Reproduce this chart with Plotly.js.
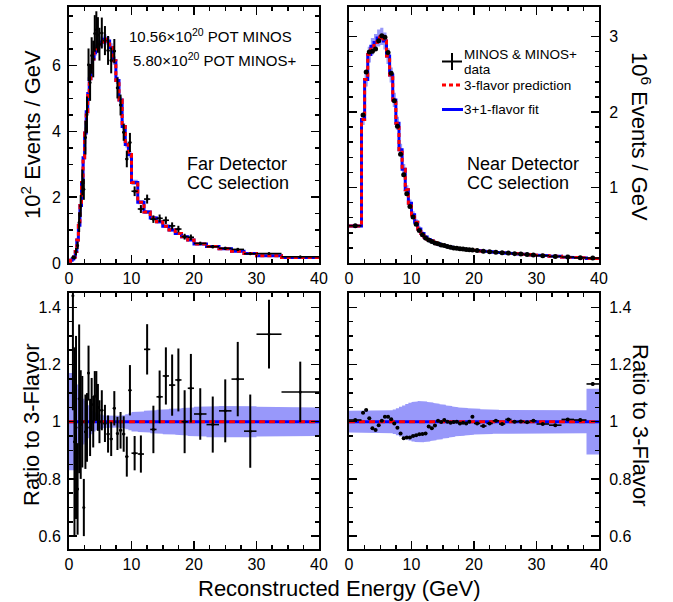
<!DOCTYPE html>
<html><head><meta charset="utf-8">
<script src="https://cdn.plot.ly/plotly-3.0.1.min.js"></script>
<style>html,body{margin:0;padding:0;background:#fff;} #chart{width:673px;height:602px;}</style>
</head><body><div id="chart"></div>
<script>
// ---------------- Far Detector ----------------
const fdEdges = [0,0.25,0.5,0.75,1,1.25,1.5,1.75,2,2.25,2.5,2.75,3,3.25,3.5,3.75,4,4.25,4.5,4.75,5,
  5.5,6,6.5,7,7.5,8,8.5,9,9.5,10,11,12,13,14,15,16,17,18,19,20,22,24,26,28,30,34,40];
// 3-flavor prediction (10^2 events / GeV)
const fdPred = [0.05,0.08,0.12,0.18,0.35,0.7,1.15,1.75,2.45,3.2,3.95,4.6,5.15,5.6,5.95,6.2,6.4,6.5,6.6,6.65,
  6.72,6.8,6.75,6.55,6.15,5.55,4.95,4.15,3.6,3.3,
  2.45,1.85,1.55,1.37,1.25,1.12,1.0,0.9,0.8,0.7,
  0.58,0.5,0.43,0.36,0.29,0.22,0.17];
// 3+1-flavor fit relative to 3-flavor
const fdFitRatio = [1,1,1,1,1,1,1,1,1,1,1,1,1,1,1,1,1,1,1,1,1,1,1,1,1,1,1,1,1,1,1,1,1,1,1,1,1,1,1,1,1,1,1,1,1,1,1];
// data / 3-flavor
const fdRatio = [null,null,1.44,0.93,0.98,0.765,1.08,0.99,1.00,0.70,0.965,0.98,1.17,0.98,1.06,1.00,1.09,1.09,1.05,1.00,
  1.04,0.994,0.957,0.94,1.047,0.959,0.97,0.957,0.878,1.11,
  0.89,0.887,1.253,0.973,1.087,1.16,1.128,1.146,1.0,1.117,
  1.027,0.99,1.038,1.149,0.967,1.306,1.104];
const fdRatioErr = [null,null,0.40,0.33,0.32,0.16,0.26,0.19,0.16,0.10,0.13,0.12,0.096,0.10,0.093,0.09,0.087,0.087,0.082,0.075,
  0.07,0.065,0.065,0.06,0.06,0.058,0.064,0.062,0.07,0.088,
  0.06,0.065,0.088,0.083,0.092,0.10,0.107,0.11,0.11,0.12,
  0.09,0.098,0.11,0.13,0.128,0.12,0.106];
// relative systematic band
const fdBand = [0.17,0.17,0.17,0.17,0.15,0.13,0.115,0.10,0.09,0.08,0.072,0.065,0.058,0.05,0.044,0.038,0.034,0.03,0.028,0.026,
  0.024,0.022,0.02,0.02,0.02,0.02,0.021,0.023,0.026,0.03,
  0.034,0.036,0.038,0.04,0.042,0.044,0.045,0.046,0.048,0.05,
  0.052,0.054,0.055,0.055,0.054,0.052,0.05];

// ---------------- Near Detector ----------------
const ndEdges = [0,2,2.5,3,3.5,4,4.5,5,5.5,6,6.5,7,7.5,8,8.5,9,9.5,10,10.5,11,11.5,12,12.5,13,13.5,14,14.5,15,15.5,16,16.5,17,17.5,18,18.5,19,19.5,20,
  21,22,23,24,25,26,27,28,29,30,32,34,36,38,40];
// 3-flavor prediction (10^6 events / GeV)
const ndPred = [0.49,1.90,2.43,2.76,2.87,2.92,2.98,3.0,2.94,2.74,2.49,2.16,1.85,1.50,1.24,0.97,0.79,0.64,0.54,0.45,0.39,
  0.345,0.31,0.29,0.27,0.255,0.24,0.23,0.22,0.21,0.20,0.195,0.19,0.185,0.18,0.175,0.17,
  0.165,0.158,0.15,0.143,0.137,0.13,0.124,0.118,0.112,0.106,
  0.098,0.088,0.078,0.068,0.058];
const ndFitRatio = [1,1,1,1,1,1,1,1,1,1,1,1,1,1,1,1,1,1,1,1,1,1,1,1,1,1,1,1,1,1,1,1,1,1,1,1,1,1,1,1,1,1,1,1,1,1,1,1,1,1,1,1];
const ndRatio = [1.006,1.031,1.041,1.012,0.977,0.971,0.988,1.003,1.017,1.017,1.009,
  0.994,0.979,0.959,0.942,0.945,0.945,0.95,0.953,0.956,0.957,
  0.959,0.983,0.977,0.987,1.003,0.999,1.006,1.0,0.996,0.999,
  1.0,0.994,0.996,0.994,1.0,1.017,
  0.994,0.985,0.994,1.003,0.992,1.008,1.0,1.001,0.998,1.003,
  0.992,0.988,1.008,1.006,1.132];
const ndRatioErr = [0.002,0.003,0.003,0.002,0.002,0.002,0.002,0.002,0.002,0.002,
  0.002,0.002,0.002,0.002,0.003,0.003,0.003,0.003,0.003,0.003,
  0.003,0.003,0.003,0.003,0.003,0.003,0.003,0.003,0.003,0.003,
  0.004,0.004,0.004,0.004,0.004,0.004,0.004,
  0.003,0.003,0.003,0.003,0.004,0.004,0.004,0.004,0.004,0.004,
  0.003,0.004,0.004,0.005,0.006];
const ndBand = [0.038,0.038,0.038,0.038,0.038,0.038,0.038,0.038,0.038,0.038,
  0.04,0.043,0.047,0.052,0.057,0.062,0.066,0.069,0.071,0.072,
  0.072,0.071,0.069,0.067,0.065,0.063,0.061,0.059,0.057,0.055,
  0.053,0.051,0.05,0.049,0.048,0.047,0.046,
  0.045,0.044,0.043,0.042,0.041,0.04,0.04,0.04,0.04,0.04,
  0.04,0.04,0.04,0.04,0.115];

// ---------------- helpers ----------------
const FONT = 'Liberation Sans, Arial, Helvetica, sans-serif';
const BANDCOL = 'rgb(152,152,250)';
function step(edges, vals){ const x=[],y=[]; for(let i=0;i<vals.length;i++){ x.push(edges[i],edges[i+1]); y.push(vals[i],vals[i]); } return {x,y}; }
function centers(e){ const c=[]; for(let i=0;i<e.length-1;i++) c.push((e[i]+e[i+1])/2); return c; }
function halfw(e){ const c=[]; for(let i=0;i<e.length-1;i++) c.push((e[i+1]-e[i])/2); return c; }
function band(edges, lo, hi){ const u=step(edges,hi), l=step(edges,lo); return {x:u.x.concat(l.x.slice().reverse()), y:u.y.concat(l.y.slice().reverse())}; }

function panelTraces(edges, pred, fitR, ratio, rerr, rel, xa, ya, isRatio, msize, dash){
  const base = isRatio ? pred.map(p=>p/p) : pred;
  const hi = base.map((b,i)=>b*(1+rel[i])), lo = base.map((b,i)=>b*(1-rel[i]));
  const bp = band(edges, lo, hi);
  const fit = step(edges, base.map((b,i)=>b*fitR[i]));
  const pr = step(edges, base);
  const dy = isRatio ? ratio : ratio.map((r,i)=> r==null?null:r*pred[i]);
  const de = isRatio ? rerr : rerr.map((r,i)=> r==null?null:r*pred[i]);
  return [
    {x:bp.x, y:bp.y, xaxis:xa, yaxis:ya, mode:'lines', fill:'toself', fillcolor:BANDCOL, line:{width:0,color:BANDCOL}, hoverinfo:'skip'},
    {x:fit.x, y:fit.y, xaxis:xa, yaxis:ya, mode:'lines', line:{color:'rgb(0,0,255)', width:3}},
    {x:pr.x, y:pr.y, xaxis:xa, yaxis:ya, mode:'lines', line:{color:'rgb(255,0,0)', width:3, dash:dash}},
    {x:centers(edges), y:dy, xaxis:xa, yaxis:ya, mode:'markers', marker:{color:'black', size:msize},
      error_y:{type:'data', array:de, visible:true, color:'black', thickness:2, width:0},
      error_x:{type:'data', array:halfw(edges), visible:true, color:'black', thickness:1.6, width:0}}
  ];
}

const data = [].concat(
  panelTraces(fdEdges, fdPred, fdFitRatio, fdRatio, fdRatioErr, fdBand, 'x', 'y', false, 3, '4px,3px'),
  panelTraces(ndEdges, ndPred, ndFitRatio, ndRatio, ndRatioErr, ndBand, 'x2', 'y2', false, 5, '4px,3px'),
  panelTraces(fdEdges, fdPred, fdFitRatio, fdRatio, fdRatioErr, fdBand, 'x3', 'y3', true, 3, '6px,4px'),
  panelTraces(ndEdges, ndPred, ndFitRatio, ndRatio, ndRatioErr, ndBand, 'x4', 'y4', true, 4, '6px,4px')
);

const W=673, H=602;
const px = v=>v/W, py = v=>1-v/H;
const xL=[px(69),px(319)], xR=[px(349),px(599)], yT=[py(263),py(7)], yB=[py(549),py(293)];

function xax(dom, anchor){ return {domain:dom, anchor:anchor, range:[0,40], tick0:0, dtick:10, ticks:'inside', ticklen:8, tickwidth:1.5, tickcolor:'black',
  showline:true, linewidth:2, linecolor:'black', mirror:'allticks', showgrid:false, zeroline:false,
  minor:{dtick:2.5, tick0:0, ticks:'inside', ticklen:4, tickwidth:1.5, tickcolor:'black', showgrid:false},
  tickfont:{family:FONT, size:16, color:'black'}}; }
function yax(dom, anchor, range, tickvals, minor, side){ return {domain:dom, anchor:anchor, range:range, tickvals:tickvals, side:side,
  ticks:'inside', ticklen:8, tickwidth:1.5, tickcolor:'black',
  showline:true, linewidth:2, linecolor:'black', mirror:'allticks', showgrid:false, zeroline:false,
  minor:{dtick:minor, tick0:0, ticks:'inside', ticklen:4, tickwidth:1.5, tickcolor:'black', showgrid:false},
  ticklabelstandoff: side==='right'?5:3,
  tickfont:{family:FONT, size:16, color:'black'}}; }

function ann(text, x, y, size, opts){ return Object.assign({text:text, x:px(x), y:py(y), xref:'paper', yref:'paper', showarrow:false,
  font:{family:FONT, size:size, color:'black'}, xanchor:'center', yanchor:'middle'}, opts||{}); }

const annotations = [
  ann('10<sup>2</sup> Events / GeV', 31, 135, 22, {textangle:-90}),
  ann('10<sup>6</sup> Events / GeV', 641, 136, 22, {textangle:90}),
  ann('Ratio to 3-Flavor', 31, 425, 22, {textangle:-90}),
  ann('Ratio to 3-Flavor', 641, 425, 22, {textangle:90}),
  ann('Reconstructed Energy (GeV)', 339, 588, 22),
  ann('10.56×10<sup>20</sup> POT MINOS', 127, 36, 15, {xanchor:'left'}),
  ann('5.80×10<sup>20</sup> POT MINOS+', 131, 59, 15, {xanchor:'left'}),
  ann('Far Detector', 185, 164, 18, {xanchor:'left'}),
  ann('CC selection', 185, 183, 18, {xanchor:'left'}),
  ann('Near Detector', 465, 164, 18, {xanchor:'left'}),
  ann('CC selection', 465, 183, 18, {xanchor:'left'}),
  ann('MINOS & MINOS+', 462, 55, 13.5, {xanchor:'left'}),
  ann('data', 462, 70, 13.5, {xanchor:'left'}),
  ann('3-flavor prediction', 462, 86, 13.5, {xanchor:'left'}),
  ann('3+1-flavor fit', 462, 110, 13.5, {xanchor:'left'})
];
const shapes = [
  {type:'line', xref:'paper', yref:'paper', x0:px(442), x1:px(462), y0:py(61.5), y1:py(61.5), line:{color:'black', width:2}},
  {type:'line', xref:'paper', yref:'paper', x0:px(452), x1:px(452), y0:py(53), y1:py(70), line:{color:'black', width:2}},
  {type:'line', xref:'paper', yref:'paper', x0:px(442), x1:px(462), y0:py(85), y1:py(85), line:{color:'rgb(255,0,0)', width:3, dash:'4px,3px'}},
  {type:'line', xref:'paper', yref:'paper', x0:px(442), x1:px(463), y0:py(109.5), y1:py(109.5), line:{color:'rgb(0,0,255)', width:3}}
];

const layout = {
  width:W, height:H, margin:{l:0,r:0,t:0,b:0}, showlegend:false,
  paper_bgcolor:'white', plot_bgcolor:'white', font:{family:FONT, color:'black'},
  xaxis: xax(xL,'y'), yaxis: yax(yT,'x',[0,7.78],[0,2,4,6],0.5,'left'),
  xaxis2: xax(xR,'y2'), yaxis2: yax(yT,'x2',[0,3.39],[1,2,3],0.2,'right'),
  xaxis3: xax(xL,'y3'), yaxis3: yax(yB,'x3',[0.555,1.45],[0.6,0.8,1,1.2,1.4],0.05,'left'),
  xaxis4: xax(xR,'y4'), yaxis4: yax(yB,'x4',[0.555,1.45],[0.6,0.8,1,1.2,1.4],0.05,'right'),
  annotations: annotations, shapes: shapes
};
Plotly.newPlot('chart', data, layout, {displayModeBar:false, staticPlot:true});
</script></body></html>
